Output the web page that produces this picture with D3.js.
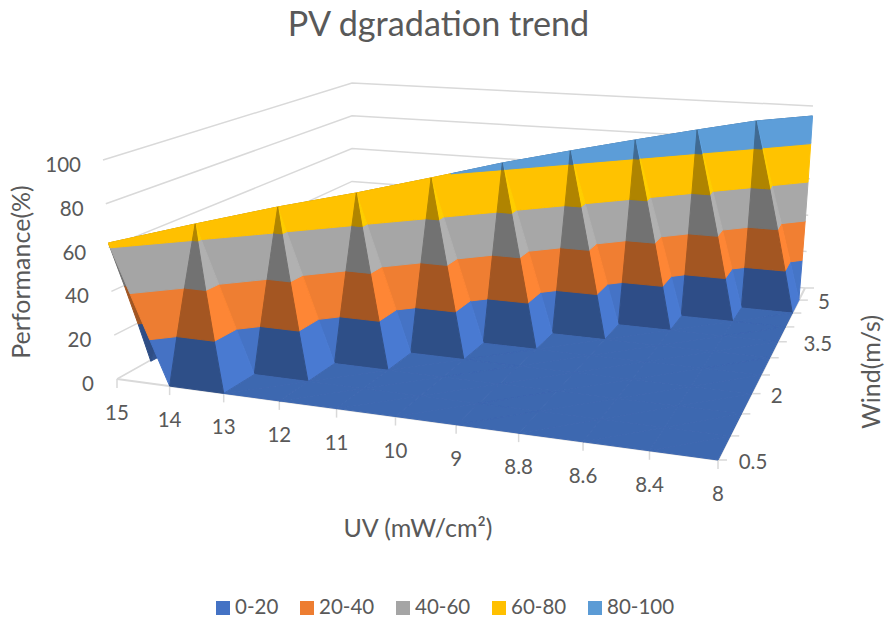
<!DOCTYPE html>
<html><head><meta charset="utf-8">
<style>html,body{margin:0;padding:0;background:#fff}svg{display:block}text{font-family:Lato,"Open Sans",sans-serif;fill:#595959}</style>
<script src="https://cdn.jsdelivr.net/npm/d3@7/dist/d3.min.js"></script></head><body>
<script>
const uvCategories=["15","14","13","12","11","10","9","8.8","8.6","8.4","8"];
const windCategories=["0.5","1","1.5","2","2.5","3","3.5","4","4.5","5","5.5"];
const windLabels=["0.5","2","3.5","5"];
const zTicks=[0,20,40,60,80,100];
const performance=[62.1,67.0,71.4,74.7,78.8,83.2,86.4,89.3,91.9,94.2,94.5];
const bandNames=["0-20","20-40","40-60","60-80","80-100"];
const bandColors=["#4472C4","#ED7D31","#A5A5A5","#FFC000","#5B9BD5"];

const W=886,H=619;
const svg=d3.select("body").append("svg").attr("width",W).attr("height",H);
const defs=svg.append("defs");
defs.append("filter").attr("id","soft").append("feGaussianBlur").attr("stdDeviation",0.45);

const uS=d3.scalePoint().domain(uvCategories).range([0,1]);
const vS=d3.scalePoint().domain(windCategories).range([0,1]);
const tS=d3.scaleLinear().domain([0,100]).range([0,1]);

function quadMap(q){
  const [[x0,y0],[x1,y1],[x2,y2],[x3,y3]]=q;
  const dx1=x1-x2,dx2=x3-x2,sx=x0-x1+x2-x3,dy1=y1-y2,dy2=y3-y2,sy=y0-y1+y2-y3;
  const den=dx1*dy2-dx2*dy1;
  const g=(sx*dy2-dx2*sy)/den,h=(dx1*sy-sx*dy1)/den;
  const a=x1-x0+g*x1,b=x3-x0+h*x3,d=y1-y0+g*y1,e=y3-y0+h*y3;
  return (u,v)=>{const w=g*u+h*v+1;return [(a*u+b*v+x0)/w,(d*u+e*v+y0)/w];};
}
const floorMap=quadMap([[117,379],[718,460],[805,288],[368,247]]);
const topMap=quadMap([[103,160],[750,218],[813,106],[372,83]]);
function project(u,v,t){const a=floorMap(u,v),b=topMap(u,v);return [a[0]+(b[0]-a[0])*t,a[1]+(b[1]-a[1])*t];}
const P=(u,v,z)=>project(u,v,tS(z));
const wallCorner=d3.scaleLinear().domain([0,100]).range([[352,247],[352,83]]);

const grid=uvCategories.map((_,c)=>windCategories.map((_,r)=>c===r?performance[c]:0));
const tris=[];
const V=(c,r)=>({u:uS(uvCategories[c]),v:vS(windCategories[r]),z:grid[c][r],c,r});
for(let c=0;c<uvCategories.length-1;c++)for(let r=0;r<windCategories.length-1;r++){
  const a=V(c,r),b=V(c+1,r),d=V(c+1,r+1),e=V(c,r+1);
  if(a.z+d.z>=b.z+e.z){tris.push([a,b,d],[a,d,e]);}
  else{tris.push([a,b,e],[e,b,d]);}
}
function normal(t){
  const k=t.map(p=>[p.c,p.r,p.z/25]);
  const a=k[1].map((x,i)=>x-k[0][i]),b=k[2].map((x,i)=>x-k[0][i]);
  let n=[a[1]*b[2]-a[2]*b[1],a[2]*b[0]-a[0]*b[2],a[0]*b[1]-a[1]*b[0]];
  if(n[2]<0)n=n.map(x=>-x);
  const l=Math.hypot(...n);return n.map(x=>x/l);
}
function shade(t){
  const [nx,ny]=normal(t);
  if(nx<-0.05&&ny>0.05)return 0.68;
  return 0.9+0.18*nx+0.22*ny-0.3*nx*ny;
}
function clip(poly,z,keepAbove){
  const out=[];
  for(let i=0;i<poly.length;i++){
    const p=poly[i],q=poly[(i+1)%poly.length];
    const pi=keepAbove?p.z>=z:p.z<=z,qi=keepAbove?q.z>=z:q.z<=z;
    if(pi)out.push(p);
    if(pi!==qi){const s=(z-p.z)/(q.z-p.z);out.push({u:p.u+(q.u-p.u)*s,v:p.v+(q.v-p.v)*s,z});}
  }
  return out;
}
tris.forEach(t=>{t.depth=d3.mean(t,p=>p.v);t.cdepth=d3.mean(t,p=>p.u);t.shade=shade(t);});
tris.sort((a,b)=>d3.descending(a.depth,b.depth)||d3.ascending(a.cdepth,b.cdepth));
const polys=[];
tris.forEach(t=>{
  zTicks.slice(0,-1).forEach((lo,i)=>{
    const hi=zTicks[i+1];
    if(d3.max(t,p=>p.z)===0&&i>0)return;
    const poly=clip(clip(t,lo,true),hi,false);
    if(poly.length<3)return;
    const col=d3.rgb(bandColors[i]);
    const s=t.shade;
    polys.push({pts:poly.map(p=>project(p.u,p.v,tS(p.z))),fill:d3.rgb(col.r*s,col.g*s,col.b*s).formatHex()});
  });
});

const art=svg.append("g").attr("filter","url(#soft)");
const line=d3.line();
zTicks.forEach(z=>{
  art.append("path").attr("d",line([P(0,0,z),wallCorner(z),P(1,1,z)])).attr("fill","none").attr("stroke","#d9d9d9").attr("stroke-width",1.5);
});
const axisC="#d9d9d9";
art.append("path").attr("d",line([P(0,0,0),P(1,0,0),P(1,1,0)])).attr("fill","none").attr("stroke",axisC).attr("stroke-width",2);
uvCategories.forEach(k=>{const p=P(uS(k),0,0);art.append("line").attr("x1",p[0]).attr("y1",p[1]).attr("x2",p[0]).attr("y2",p[1]+9).attr("stroke",axisC).attr("stroke-width",1.5);});
windCategories.forEach(k=>{const p=P(1,vS(k),0);art.append("line").attr("x1",p[0]).attr("y1",p[1]).attr("x2",p[0]+9).attr("y2",p[1]).attr("stroke",axisC).attr("stroke-width",1.5);});
art.append("g").selectAll("path").data(polys).join("path")
  .attr("d",d=>line(d.pts)+"Z").attr("fill",d=>d.fill).attr("stroke",d=>d.fill).attr("stroke-width",1).attr("stroke-linejoin","round");

svg.append("text").attr("x",438.5).attr("y",36).attr("text-anchor","middle").attr("font-size",34.2).text("PV dgradation trend");
const zLabelY=d3.scaleLinear().domain([0,100]).range([391,172]);
const zLabelX=d3.scaleLinear().domain([0,100]).range([94,81]);
zTicks.forEach(z=>svg.append("text").attr("x",zLabelX(z)).attr("y",zLabelY(z)).attr("text-anchor","end").attr("font-size",20.5).text(z));
uvCategories.forEach(k=>{const p=P(uS(k),0,0);svg.append("text").attr("x",p[0]).attr("y",p[1]+41).attr("text-anchor","middle").attr("font-size",20.5).text(k);});
const windDx=[35,25,40,25];
windLabels.forEach((k,i)=>{const p=P(1,vS(k),0);svg.append("text").attr("x",p[0]+windDx[i]).attr("y",p[1]+9).attr("text-anchor","middle").attr("font-size",20.5).text(k);});
svg.append("text").attr("x",418).attr("y",537).attr("text-anchor","middle").attr("font-size",25).text("UV (mW/cm²)");
svg.append("text").attr("transform","translate(30,272) rotate(-90)").attr("text-anchor","middle").attr("font-size",25).text("Performance(%)");
svg.append("text").attr("transform","translate(880,372) rotate(-90)").attr("text-anchor","middle").attr("font-size",25).text("Wind(m/s)");
const legX=[216,300,396,492,588];
bandNames.forEach((n,i)=>{
  svg.append("rect").attr("x",legX[i]).attr("y",601).attr("width",14).attr("height",14).attr("fill",bandColors[i]);
  svg.append("text").attr("x",legX[i]+19).attr("y",614).attr("font-size",20.5).text(n);
});
</script></body></html>
